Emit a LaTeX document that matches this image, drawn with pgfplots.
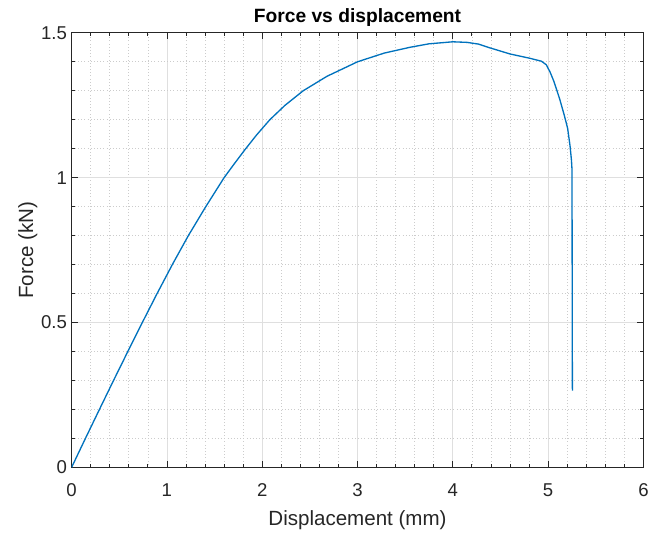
\documentclass[border=0pt]{standalone}
\usepackage{pgfplots}
\pgfplotsset{compat=1.18}
\usepackage{fontspec}
\setmainfont{Liberation Sans}
\usetikzlibrary{calc}
\definecolor{mblue}{HTML}{0072BD}
\definecolor{axgray}{HTML}{262626}

\pgfplotstableread{
x y
0 0
0.145 0.10
0.292 0.20
0.440 0.30
0.590 0.40
0.742 0.50
0.897 0.60
1.057 0.70
1.225 0.80
1.408 0.90
1.600 1.00
1.705 1.047
1.815 1.095
1.940 1.147
2.080 1.20
2.240 1.25
2.430 1.30
2.680 1.35
3.000 1.40
3.280 1.43
3.550 1.45
3.750 1.462
4.000 1.469
4.150 1.467
4.270 1.461
4.39 1.448
4.60 1.427
4.81 1.412
4.93 1.402
4.98 1.390
5.02 1.365
5.06 1.333
5.12 1.273
5.17 1.215
5.205 1.170
5.23 1.110
5.245 1.060
5.25 1.032
5.252 0.80
5.253 0.50
5.255 0.265
}\forcedata

\begin{document}
\begin{tikzpicture}
\begin{axis}[
  name=ax,
  width=431.25pt, height=327.75pt,
  scale only axis,
  xmin=0, xmax=6, ymin=0, ymax=1.5,
  xtick={0,1,...,6}, ytick={0,0.5,1,1.5},
  minor x tick num=4, minor y tick num=4,
  grid=both,
  major grid style={gray!25, line width=0.5pt},
  minor grid style={gray!40, dotted, line width=0.5pt},
  axis line style={axgray, line width=0.6pt},
  tick style={axgray, line width=0.6pt},
  tick align=inside,
  major tick length=5pt, minor tick length=2.5pt,
  ticklabel style={font=\fontsize{14}{16}\selectfont, text=axgray},
  /pgf/number format/assume math mode=true,
  xticklabel style={yshift=-9pt},
  xlabel={Displacement (mm)}, ylabel={Force (kN)},
  label style={font=\fontsize{15.5}{18}\selectfont, text=axgray},
  xlabel style={yshift=-3pt},
  ylabel style={yshift=-4pt},
  title={\textbf{Force vs displacement}},
  title style={font=\fontsize{14.5}{16}\selectfont, yshift=-5pt},
]
\addplot[mblue, line width=1pt] table[x=x, y=y] {\forcedata};
\end{axis}
\path[use as bounding box] ($(ax.south west)+(-54pt,-47.25pt)$) rectangle ($(ax.north east)+(4.5pt,24.75pt)$);
\end{tikzpicture}
\end{document}
